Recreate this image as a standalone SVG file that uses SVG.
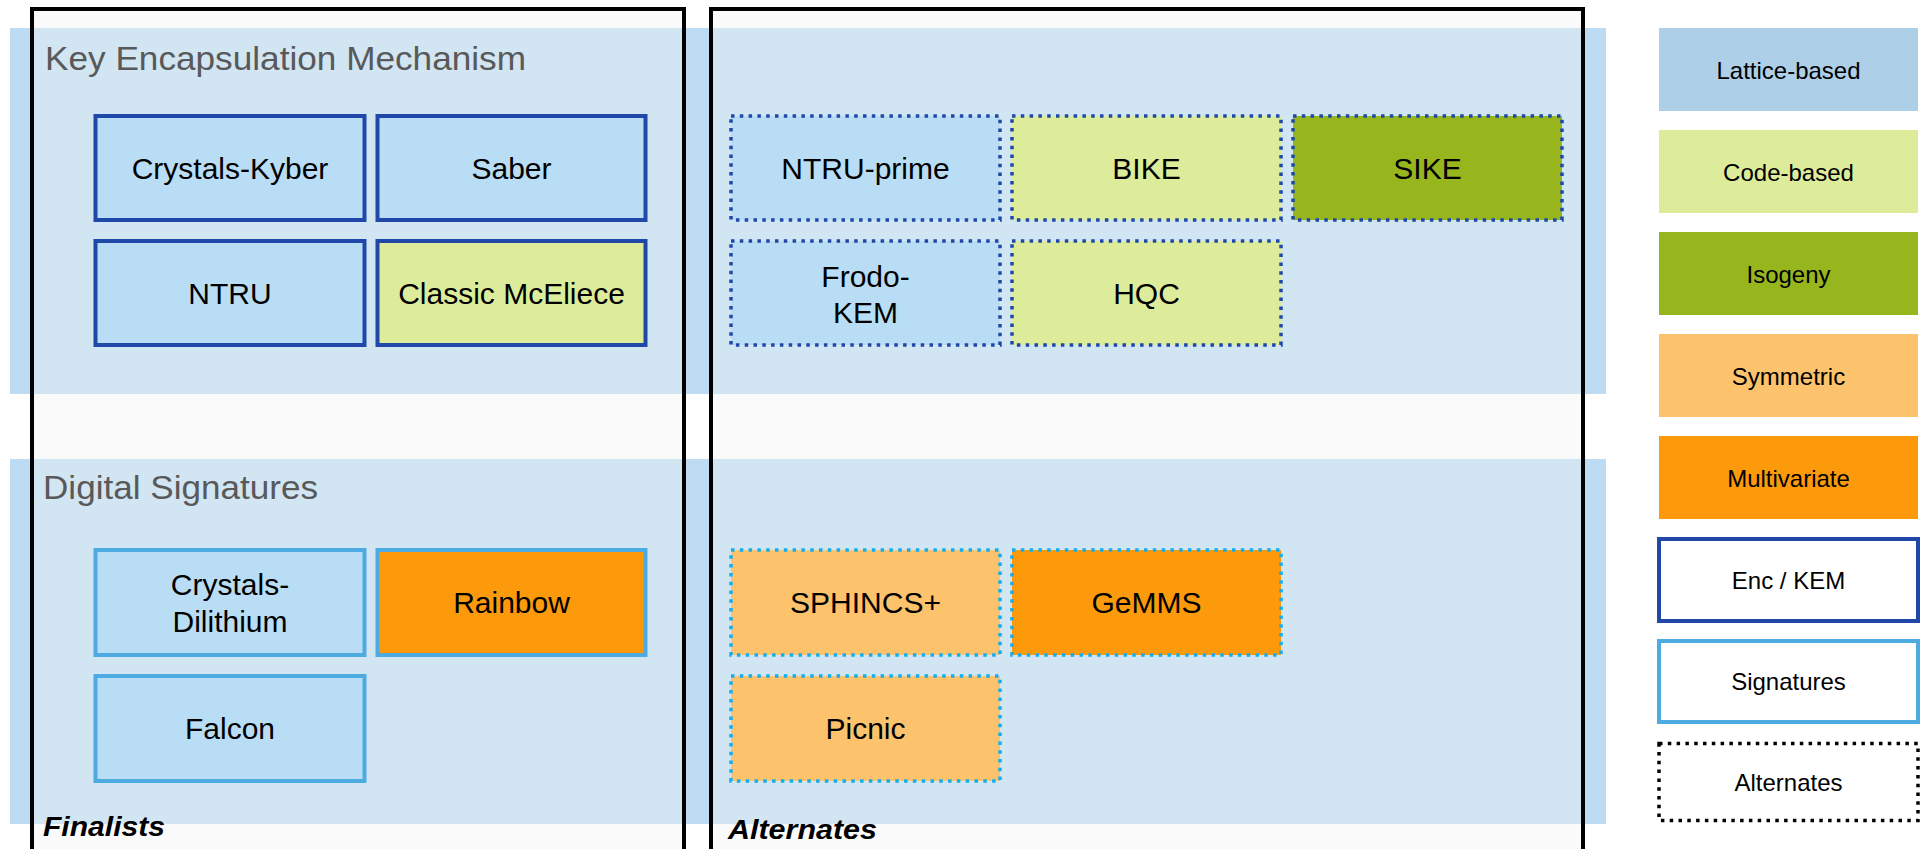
<svg xmlns="http://www.w3.org/2000/svg" width="1931" height="849" viewBox="0 0 1931 849">
  <style>
    .band { fill: #bddcf3; }
    .frame { fill: #f2f2f2; fill-opacity: 0.4; stroke: #000; stroke-width: 4; }
    .heading { font-family: "Liberation Sans", Arial, sans-serif; font-size: 33px; fill: #595959; }
    .framelabel { font-family: "Liberation Sans", Arial, sans-serif; font-size: 28px; font-weight: bold; font-style: italic; fill: #000; }
    .node text { font-family: "Liberation Sans", Arial, sans-serif; font-size: 30px; fill: #000; text-anchor: middle; }
    .legend text { font-family: "Liberation Sans", Arial, sans-serif; font-size: 24px; fill: #000; text-anchor: middle; }
    .lattice { fill: #b9ddf4; }
    .code { fill: #dcec9a; }
    .isogeny { fill: #97b61e; }
    .symmetric { fill: #fdc26c; }
    .multi { fill: #fd9a0c; }
    .kem { stroke: #1f48a8; stroke-width: 4; }
    .sig { stroke: #4eabe2; stroke-width: 4; }
    .kem-alt { stroke: #1f48a8; stroke-width: 3.5; stroke-dasharray: 3.5 5.3; }
    .sig-alt { stroke: #14aeec; stroke-width: 3.5; stroke-dasharray: 3.5 5.3; }
  </style>

  <rect width="1931" height="849" fill="#ffffff"/>

  <!-- category bands -->
  <g id="bands">
    <rect class="band" x="10" y="28" width="1596" height="366"/>
    <rect class="band" x="10" y="459" width="1596" height="365"/>
  </g>

  <!-- finalists / alternates frames -->
  <g id="frames">
    <rect class="frame" x="32" y="9" width="652" height="843"/>
    <rect class="frame" x="711" y="9" width="872" height="843"/>
  </g>

  <g id="headings">
    <text class="heading" x="45" y="70" textLength="481" lengthAdjust="spacingAndGlyphs">Key Encapsulation Mechanism</text>
    <text class="heading" x="43" y="499" textLength="275" lengthAdjust="spacingAndGlyphs">Digital Signatures</text>
    <text class="framelabel" x="43" y="836" textLength="122" lengthAdjust="spacingAndGlyphs">Finalists</text>
    <text class="framelabel" x="728" y="839" textLength="149" lengthAdjust="spacingAndGlyphs">Alternates</text>
  </g>

  <!-- KEM finalists -->
  <g id="crystals-kyber" class="node">
    <rect class="lattice kem" x="95.5" y="116" width="269" height="104"/>
    <text x="230" y="179">Crystals-Kyber</text>
  </g>
  <g id="saber" class="node">
    <rect class="lattice kem" x="377.5" y="116" width="268" height="104"/>
    <text x="511.5" y="179">Saber</text>
  </g>
  <g id="ntru" class="node">
    <rect class="lattice kem" x="95.5" y="241" width="269" height="104"/>
    <text x="230" y="304">NTRU</text>
  </g>
  <g id="classic-mceliece" class="node">
    <rect class="code kem" x="377.5" y="241" width="268" height="104"/>
    <text x="511.5" y="304">Classic McEliece</text>
  </g>

  <!-- KEM alternates -->
  <g id="ntru-prime" class="node">
    <rect class="lattice kem-alt" x="731" y="116" width="269" height="104"/>
    <text x="865.5" y="179">NTRU-prime</text>
  </g>
  <g id="bike" class="node">
    <rect class="code kem-alt" x="1012" y="116" width="269" height="104"/>
    <text x="1146.5" y="179">BIKE</text>
  </g>
  <g id="sike" class="node">
    <rect class="isogeny kem-alt" x="1293" y="116" width="269" height="104"/>
    <text x="1427.5" y="179">SIKE</text>
  </g>
  <g id="frodo-kem" class="node">
    <rect class="lattice kem-alt" x="731" y="241" width="269" height="104"/>
    <text x="865.5" y="287">Frodo-</text>
    <text x="865.5" y="323">KEM</text>
  </g>
  <g id="hqc" class="node">
    <rect class="code kem-alt" x="1012" y="241" width="269" height="104"/>
    <text x="1146.5" y="304">HQC</text>
  </g>

  <!-- Signature finalists -->
  <g id="crystals-dilithium" class="node">
    <rect class="lattice sig" x="95.5" y="550" width="269" height="105"/>
    <text x="230" y="595">Crystals-</text>
    <text x="230" y="632">Dilithium</text>
  </g>
  <g id="rainbow" class="node">
    <rect class="multi sig" x="377.5" y="550" width="268" height="105"/>
    <text x="511.5" y="613">Rainbow</text>
  </g>
  <g id="falcon" class="node">
    <rect class="lattice sig" x="95.5" y="676" width="269" height="105"/>
    <text x="230" y="739">Falcon</text>
  </g>

  <!-- Signature alternates -->
  <g id="sphincs-plus" class="node">
    <rect class="symmetric sig-alt" x="731" y="550" width="269" height="105"/>
    <text x="865.5" y="613">SPHINCS+</text>
  </g>
  <g id="gemms" class="node">
    <rect class="multi sig-alt" x="1012" y="550" width="269" height="105"/>
    <text x="1146.5" y="613">GeMMS</text>
  </g>
  <g id="picnic" class="node">
    <rect class="symmetric sig-alt" x="731" y="676" width="269" height="105"/>
    <text x="865.5" y="739">Picnic</text>
  </g>

  <!-- legend -->
  <g id="legend" class="legend">
    <g id="legend-lattice">
      <rect x="1659" y="28" width="259" height="83" fill="#aecfe8"/>
      <text x="1788.5" y="78.5">Lattice-based</text>
    </g>
    <g id="legend-code">
      <rect x="1659" y="130" width="259" height="83" fill="#dcec9a"/>
      <text x="1788.5" y="180.5">Code-based</text>
    </g>
    <g id="legend-isogeny">
      <rect x="1659" y="232" width="259" height="83" fill="#97b61e"/>
      <text x="1788.5" y="282.5">Isogeny</text>
    </g>
    <g id="legend-symmetric">
      <rect x="1659" y="334" width="259" height="83" fill="#fdc26c"/>
      <text x="1788.5" y="384.5">Symmetric</text>
    </g>
    <g id="legend-multivariate">
      <rect x="1659" y="436" width="259" height="83" fill="#fd9a0c"/>
      <text x="1788.5" y="486.5">Multivariate</text>
    </g>
    <g id="legend-kem">
      <rect x="1659" y="539" width="259" height="82" fill="#ffffff" stroke="#1f48a8" stroke-width="4"/>
      <text x="1788.5" y="588.5">Enc / KEM</text>
    </g>
    <g id="legend-sig">
      <rect x="1659" y="641" width="259" height="81" fill="#ffffff" stroke="#4eabe2" stroke-width="4"/>
      <text x="1788.5" y="690">Signatures</text>
    </g>
    <g id="legend-alt">
      <rect x="1659" y="743.5" width="259" height="77" fill="#ffffff" stroke="#000" stroke-width="3.5" stroke-dasharray="3.5 5.3"/>
      <text x="1788.5" y="790.5">Alternates</text>
    </g>
  </g>
</svg>
